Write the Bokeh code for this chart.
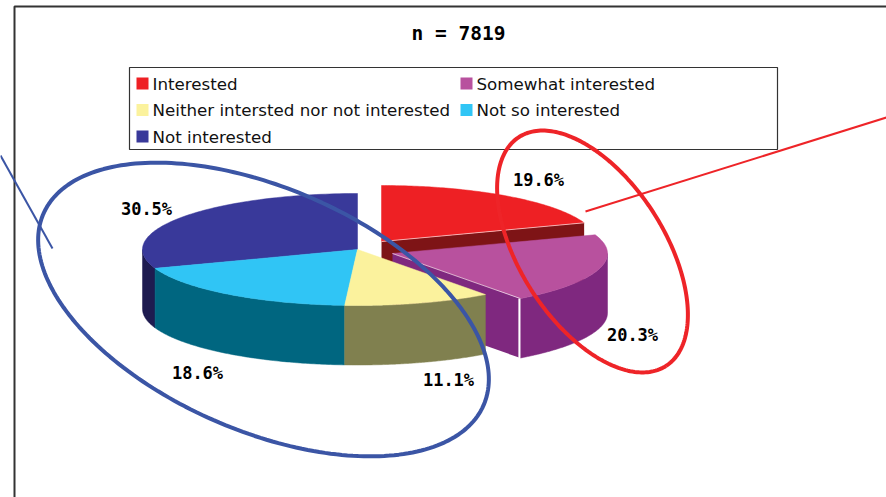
import numpy as np
from bokeh.embed import file_html
from bokeh.models import Range1d
from bokeh.plotting import figure
from bokeh.resources import INLINE
from bokeh.core.properties import value

# Survey shares, clockwise from twelve o'clock
categories = ["Interested", "Somewhat interested", "Neither intersted nor not interested",
              "Not so interested", "Not interested"]
shares = [19.6, 20.3, 11.1, 18.6, 30.5]
share_labels = ["19.6%", "20.3%", "11.1%", "18.6%", "30.5%"]
title_text = "n = 7819"

top_colors = ["#ee2024", "#b8519e", "#fbf29d", "#30c5f5", "#39399a"]
side_colors = ["#7e1416", "#7f287f", "#80804f", "#006680", "#1e1b50"]

# Pie projection, in page pixels
RX, RY, DEPTH = 215.0, 56.0, 59.5
centers = [(381, 241), (392, 253), (357, 249), (357, 249), (357, 249)]
label_pos = [(538, 179), (632, 334), (448, 379), (197, 372), (146, 208)]

W, H = 886, 497
p = figure(width=W, height=H, output_backend="svg", toolbar_location=None,
           x_range=Range1d(0, W), y_range=Range1d(H, 0),
           min_border=0, outline_line_color=None, background_fill_color="white")
p.axis.visible = False
p.grid.visible = False


def rim(cx, cy, a0, a1, n=90):
    t = np.radians(np.linspace(a0, a1, n))
    return cx + RX * np.sin(t), cy - RY * np.cos(t)


# Slice boundaries in degrees
edges = np.concatenate([[0], np.cumsum(shares)]) / sum(shares) * 360

# Outer frame
p.line([14, 14, W], [H, 6, 6], line_color="#333333", line_width=2)

# Legend
p.quad(left=[129], right=[777], top=[67], bottom=[149], fill_color="white",
       line_color="#333333", line_width=1.2)
legend_x = [136, 460, 136, 460, 136]
legend_y = [83, 83, 109.5, 109.5, 136]
p.rect(x=[v + 6 for v in legend_x], y=legend_y, width=12, height=12,
       fill_color=top_colors, line_color=None)
p.text(x=[v + 16 for v in legend_x], y=legend_y, text=categories,
       text_font=value("DejaVu Sans"), text_font_size="16.7px", text_color="#111111",
       text_baseline="middle", text_align="left")

# Slices painted back to front: the two pulled-out ones, then the main body
for i in [0, 1, 4, 3, 2]:
    cx, cy = centers[i]
    a0, a1 = edges[i], edges[i + 1]

    # Cut faces of the pulled-out slices
    if i in (0, 1):
        ex, ey = rim(cx, cy, a1, a1, 1)
        p.patch([cx, ex[0], ex[0], cx], [cy, ey[0], ey[0] + DEPTH, cy + DEPTH],
                fill_color=side_colors[i], line_color=None)

    # Outer wall, only the part facing the viewer
    w0, w1 = max(a0, 90), min(a1, 270)
    if w1 > w0:
        x, y = rim(cx, cy, w0, w1)
        p.patch(np.concatenate([x, x[::-1]]), np.concatenate([y, y[::-1] + DEPTH]),
                fill_color=side_colors[i], line_color=side_colors[i], line_width=0.5)
    if i == 1:
        ex, ey = rim(cx, cy, a1, a1, 1)
        p.line([ex[0] - 1, ex[0] - 1], [ey[0], ey[0] + DEPTH], line_color="white", line_width=2)

    # Top face
    x, y = rim(cx, cy, a0, a1)
    p.patch(np.concatenate([[cx], x]), np.concatenate([[cy], y]),
            fill_color=top_colors[i], line_color=top_colors[i], line_width=0.5)

# Soft highlights along the front edges of the pulled-out slices
for i in [0, 1]:
    cx, cy = centers[i]
    ex, ey = rim(cx, cy, edges[i + 1], edges[i + 1], 1)
    p.line([cx, ex[0]], [cy, ey[0]], line_color="white", line_width=1, line_alpha=0.6)


# Callout rings and their leader lines
def tilted_ellipse(cx, cy, a, b, deg, n=240):
    t = np.linspace(0, 2 * np.pi, n)
    phi = np.radians(deg)
    return (cx + a * np.cos(t) * np.cos(phi) - b * np.sin(t) * np.sin(phi),
            cy + a * np.cos(t) * np.sin(phi) + b * np.sin(t) * np.cos(phi))


ex, ey = tilted_ellipse(263, 309, 240, 121.4, 23.5)
p.line(ex, ey, line_color="#3b55a5", line_width=4)
p.line([0, 52], [155, 248], line_color="#3b55a5", line_width=2)

ex, ey = tilted_ellipse(592, 251, 136, 72.3, 57.3)
p.line(ex, ey, line_color="#ee2428", line_width=4)
p.line([585, W], [211, 117], line_color="#ee2428", line_width=2)

# Title and value labels
p.text(x=[458], y=[33], text=[title_text], text_font=value("DejaVu Sans Mono"),
       text_font_style="bold", text_font_size="19.5px", text_color="#000000",
       text_align="center", text_baseline="middle")
p.text(x=[q[0] for q in label_pos], y=[q[1] for q in label_pos], text=share_labels,
       text_font=value("DejaVu Sans Mono"), text_font_style="bold", text_font_size="17px",
       text_color="#000000", text_align="center", text_baseline="middle")

open("out.html", "w").write(file_html(p, INLINE))
